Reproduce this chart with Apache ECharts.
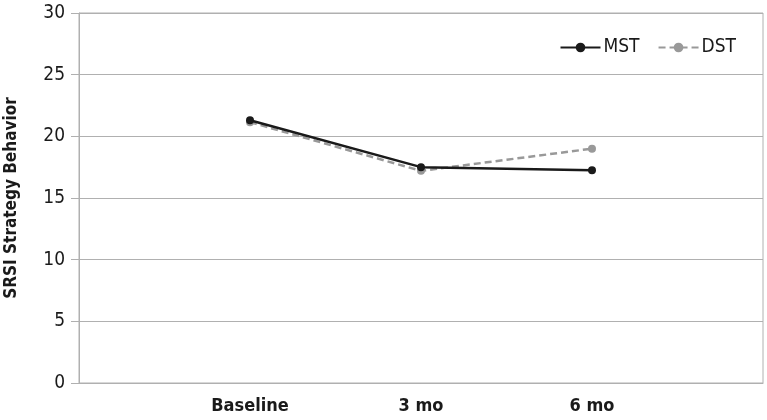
<!DOCTYPE html>
<html><head><meta charset="utf-8">
<script src="https://cdn.jsdelivr.net/npm/echarts@6/dist/echarts.min.js"></script>
<style>html,body{margin:0;padding:0;background:#fff}#c{width:767px;height:420px}</style>
</head><body><div id="c"></div>
<script>
const categories = ["", "Baseline", "3 mo", "6 mo", ""];
const mst = [null, 21.3, 17.5, 17.25, null];
const dst = [null, 21.15, 17.2, 19.0, null];
const yTicks = {min: 0, max: 30, interval: 5};
const FONT = "'Liberation Sans Narrow', 'Arial Narrow', 'DejaVu Sans Condensed', sans-serif";

const chart = echarts.init(document.getElementById('c'), null, {renderer: 'canvas'});
chart.setOption({
  animation: false,
  textStyle: {fontFamily: FONT},
  grid: {left: 79, right: 4, top: 13, bottom: 37, show: true, borderColor: '#b0b0b0', borderWidth: 1, containLabel: false, outerBoundsMode: 'none'},
  legend: {
    top: 33, right: 26, itemGap: 18, itemWidth: 40, itemHeight: 12,
    textStyle: {fontFamily: FONT, fontSize: 19, color: '#1a1a1a', padding: [0,0,0,-2]},
    data: ['MST', 'DST']
  },
  xAxis: {
    type: 'category', data: categories, boundaryGap: false,
    axisLine: {show: true, lineStyle: {color: '#b0b0b0', width: 1}},
    axisTick: {show: false},
    splitLine: {show: false},
    axisLabel: {fontFamily: FONT, fontSize: 18, fontWeight: 'bold', color: '#1a1a1a', margin: 14}
  },
  yAxis: {
    type: 'value', min: yTicks.min, max: yTicks.max, interval: yTicks.interval,
    name: 'SRSI Strategy Behavior', nameLocation: 'middle', nameGap: 59,
    nameTextStyle: {fontFamily: FONT, fontSize: 17, fontWeight: 'bold', color: '#1a1a1a'},
    axisLine: {show: true, lineStyle: {color: '#b0b0b0', width: 1}},
    axisTick: {show: true, length: 8, lineStyle: {color: '#b0b0b0'}},
    splitLine: {show: true, lineStyle: {color: '#b0b0b0', width: 1}},
    axisLabel: {fontFamily: FONT, fontSize: 19, color: '#1a1a1a', margin: 14}
  },
  series: [
    {
      name: 'MST', type: 'line', data: mst, symbol: 'circle', symbolSize: 8,
      lineStyle: {color: '#1a1a1a', width: 2.5}, itemStyle: {color: '#1a1a1a'}, z: 3
    },
    {
      name: 'DST', type: 'line', data: dst, symbol: 'circle', symbolSize: 8,
      lineStyle: {color: '#999999', width: 2.5, type: [7, 4]}, itemStyle: {color: '#999999'}, z: 2
    }
  ]
});
</script></body></html>
